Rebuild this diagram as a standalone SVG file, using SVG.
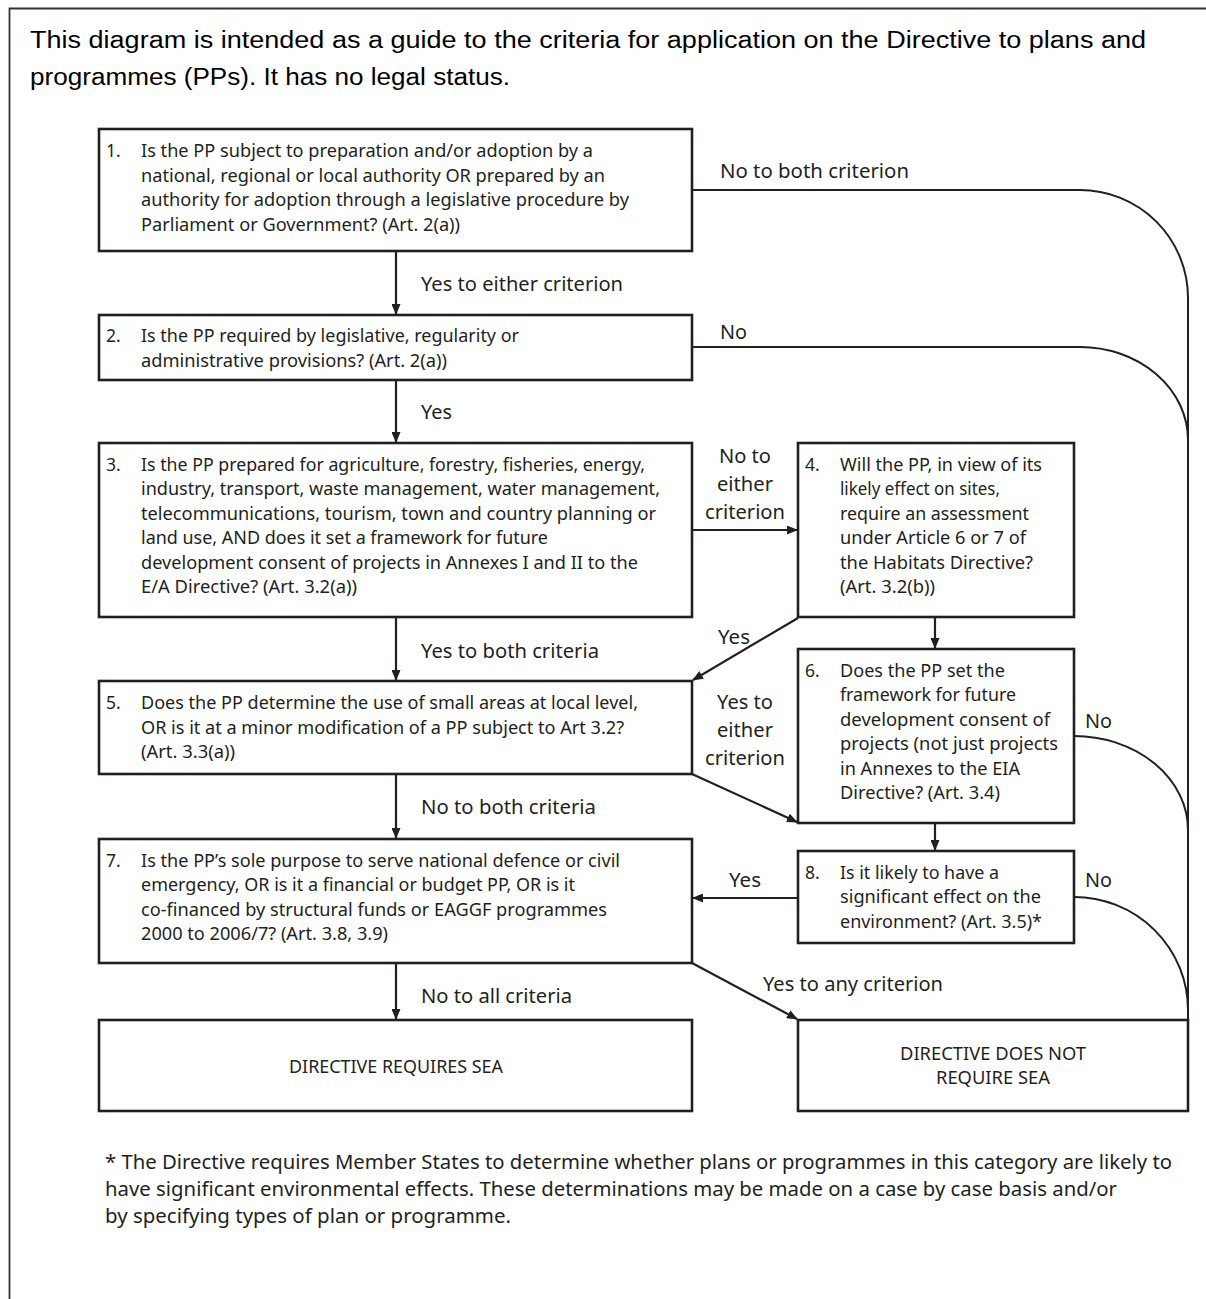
<svg xmlns="http://www.w3.org/2000/svg" width="1206" height="1299" viewBox="0 0 1206 1299">
<style>
.box{fill:#fff;stroke:#231f20;stroke-width:2.6}
.ln{fill:none;stroke:#231f20;stroke-width:2.2}
.cv{fill:none;stroke:#231f20;stroke-width:2}
.t{font-family:"Noto Sans","Liberation Sans",sans-serif;font-size:17.5px;fill:#231f20}
.l{font-family:"Noto Sans","Liberation Sans",sans-serif;font-size:20.5px;fill:#231f20}
.h{font-family:"Liberation Sans",Arial,sans-serif;font-size:23px;fill:#000}
.f{font-family:"Noto Sans","Liberation Sans",sans-serif;font-size:19px;fill:#231f20}
.c{text-anchor:middle}
</style>
<defs>
<marker id="ah" markerUnits="userSpaceOnUse" markerWidth="11" markerHeight="9" refX="10" refY="4.5" orient="auto">
<path d="M0,0 L11,4.5 L0,9 z" fill="#231f20"/>
</marker>
</defs>
<rect width="1206" height="1299" fill="#fff"/>
<path d="M9.5,1299 V8.5 H1206" fill="none" stroke="#333" stroke-width="1.8"/>
<g id="header">
<text class="h" x="30" y="48" textLength="1116" lengthAdjust="spacingAndGlyphs">This diagram is intended as a guide to the criteria for application on the Directive to plans and</text>
<text class="h" x="30" y="85" textLength="480" lengthAdjust="spacingAndGlyphs">programmes (PPs). It has no legal status.</text>
</g>
<g id="connectors">
<line class="ln" x1="396" y1="251" x2="396" y2="314" marker-end="url(#ah)"/>
<line class="ln" x1="396" y1="380" x2="396" y2="442" marker-end="url(#ah)"/>
<line class="ln" x1="396" y1="617" x2="396" y2="680" marker-end="url(#ah)"/>
<line class="ln" x1="396" y1="774" x2="396" y2="838" marker-end="url(#ah)"/>
<line class="ln" x1="396" y1="963" x2="396" y2="1019" marker-end="url(#ah)"/>
<line class="ln" x1="692" y1="530" x2="797" y2="530" marker-end="url(#ah)"/>
<line class="ln" x1="935" y1="617" x2="935" y2="648" marker-end="url(#ah)"/>
<line class="ln" x1="935" y1="823" x2="935" y2="850" marker-end="url(#ah)"/>
<line class="ln" x1="798" y1="898" x2="693" y2="898" marker-end="url(#ah)"/>
<line class="ln" x1="798" y1="618" x2="693" y2="680" marker-end="url(#ah)"/>
<line class="ln" x1="692" y1="774" x2="797" y2="822" marker-end="url(#ah)"/>
<line class="ln" x1="692" y1="963" x2="797" y2="1019" marker-end="url(#ah)"/>
<path class="cv" d="M692,190 H1080 A108,108 0 0 1 1188,298 V1019"/>
<path class="cv" d="M692,347 H1080 A108,93 0 0 1 1188,440"/>
<path class="cv" d="M1074,736 A114,94 0 0 1 1188,830"/>
<path class="cv" d="M1074,897 A114,113 0 0 1 1188,1010"/>
<g id="edge-labels">
<text class="l" x="720" y="178" textLength="189" lengthAdjust="spacingAndGlyphs">No to both criterion</text>
<text class="l" x="421" y="291" textLength="202" lengthAdjust="spacingAndGlyphs">Yes to either criterion</text>
<text class="l" x="720" y="339" textLength="27" lengthAdjust="spacingAndGlyphs">No</text>
<text class="l" x="421" y="419" textLength="31" lengthAdjust="spacingAndGlyphs">Yes</text>
<text class="l c" x="745" y="463" textLength="52" lengthAdjust="spacingAndGlyphs">No to</text>
<text class="l c" x="745" y="491" textLength="56" lengthAdjust="spacingAndGlyphs">either</text>
<text class="l c" x="745" y="519" textLength="80" lengthAdjust="spacingAndGlyphs">criterion</text>
<text class="l" x="421" y="658" textLength="178" lengthAdjust="spacingAndGlyphs">Yes to both criteria</text>
<text class="l" x="718" y="644" textLength="32" lengthAdjust="spacingAndGlyphs">Yes</text>
<text class="l c" x="745" y="709" textLength="56" lengthAdjust="spacingAndGlyphs">Yes to</text>
<text class="l c" x="745" y="737" textLength="56" lengthAdjust="spacingAndGlyphs">either</text>
<text class="l c" x="745" y="765" textLength="80" lengthAdjust="spacingAndGlyphs">criterion</text>
<text class="l" x="1085" y="728" textLength="27" lengthAdjust="spacingAndGlyphs">No</text>
<text class="l" x="421" y="814" textLength="175" lengthAdjust="spacingAndGlyphs">No to both criteria</text>
<text class="l" x="729" y="887" textLength="32" lengthAdjust="spacingAndGlyphs">Yes</text>
<text class="l" x="1085" y="887" textLength="27" lengthAdjust="spacingAndGlyphs">No</text>
<text class="l" x="421" y="1003" textLength="151" lengthAdjust="spacingAndGlyphs">No to all criteria</text>
<text class="l" x="763" y="991" textLength="180" lengthAdjust="spacingAndGlyphs">Yes to any criterion</text>
</g>
</g>
<g id="node1">
<rect class="box" x="99" y="129" width="593" height="122"/>
<text class="t" x="106" y="157">1.</text>
<text class="t" x="141" y="157" textLength="452" lengthAdjust="spacingAndGlyphs">Is the PP subject to preparation and/or adoption by a</text>
<text class="t" x="141" y="181.5" textLength="464" lengthAdjust="spacingAndGlyphs">national, regional or local authority OR prepared by an</text>
<text class="t" x="141" y="206" textLength="488" lengthAdjust="spacingAndGlyphs">authority for adoption through a legislative procedure by</text>
<text class="t" x="141" y="230.5" textLength="319" lengthAdjust="spacingAndGlyphs">Parliament or Government? (Art. 2(a))</text>
</g>
<g id="node2">
<rect class="box" x="99" y="315" width="593" height="65"/>
<text class="t" x="106" y="342">2.</text>
<text class="t" x="141" y="342" textLength="378" lengthAdjust="spacingAndGlyphs">Is the PP required by legislative, regularity or</text>
<text class="t" x="141" y="366.5" textLength="306" lengthAdjust="spacingAndGlyphs">administrative provisions? (Art. 2(a))</text>
</g>
<g id="node3">
<rect class="box" x="99" y="443" width="593" height="174"/>
<text class="t" x="106" y="470.5">3.</text>
<text class="t" x="141" y="470.5" textLength="504" lengthAdjust="spacingAndGlyphs">Is the PP prepared for agriculture, forestry, fisheries, energy,</text>
<text class="t" x="141" y="495" textLength="519" lengthAdjust="spacingAndGlyphs">industry, transport, waste management, water management,</text>
<text class="t" x="141" y="519.5" textLength="515" lengthAdjust="spacingAndGlyphs">telecommunications, tourism, town and country planning or</text>
<text class="t" x="141" y="544" textLength="407" lengthAdjust="spacingAndGlyphs">land use, AND does it set a framework for future</text>
<text class="t" x="141" y="568.5" textLength="497" lengthAdjust="spacingAndGlyphs">development consent of projects in Annexes I and II to the</text>
<text class="t" x="141" y="593" textLength="216" lengthAdjust="spacingAndGlyphs">E/A Directive? (Art. 3.2(a))</text>
</g>
<g id="node4">
<rect class="box" x="798" y="443" width="276" height="174"/>
<text class="t" x="805" y="470.5">4.</text>
<text class="t" x="840" y="470.5" textLength="202" lengthAdjust="spacingAndGlyphs">Will the PP, in view of its</text>
<text class="t" x="840" y="495" textLength="160" lengthAdjust="spacingAndGlyphs">likely effect on sites,</text>
<text class="t" x="840" y="519.5" textLength="189" lengthAdjust="spacingAndGlyphs">require an assessment</text>
<text class="t" x="840" y="544" textLength="186" lengthAdjust="spacingAndGlyphs">under Article 6 or 7 of</text>
<text class="t" x="840" y="568.5" textLength="193" lengthAdjust="spacingAndGlyphs">the Habitats Directive?</text>
<text class="t" x="840" y="593" textLength="95" lengthAdjust="spacingAndGlyphs">(Art. 3.2(b))</text>
</g>
<g id="node5">
<rect class="box" x="99" y="681" width="593" height="93"/>
<text class="t" x="106" y="709">5.</text>
<text class="t" x="141" y="709" textLength="497" lengthAdjust="spacingAndGlyphs">Does the PP determine the use of small areas at local level,</text>
<text class="t" x="141" y="733.5" textLength="483" lengthAdjust="spacingAndGlyphs">OR is it at a minor modification of a PP subject to Art 3.2?</text>
<text class="t" x="141" y="758" textLength="94" lengthAdjust="spacingAndGlyphs">(Art. 3.3(a))</text>
</g>
<g id="node6">
<rect class="box" x="798" y="649" width="276" height="174"/>
<text class="t" x="805" y="676.5">6.</text>
<text class="t" x="840" y="676.5" textLength="165" lengthAdjust="spacingAndGlyphs">Does the PP set the</text>
<text class="t" x="840" y="701" textLength="176" lengthAdjust="spacingAndGlyphs">framework for future</text>
<text class="t" x="840" y="725.5" textLength="210" lengthAdjust="spacingAndGlyphs">development consent of</text>
<text class="t" x="840" y="750" textLength="218" lengthAdjust="spacingAndGlyphs">projects (not just projects</text>
<text class="t" x="840" y="774.5" textLength="180" lengthAdjust="spacingAndGlyphs">in Annexes to the EIA</text>
<text class="t" x="840" y="799" textLength="160" lengthAdjust="spacingAndGlyphs">Directive? (Art. 3.4)</text>
</g>
<g id="node7">
<rect class="box" x="99" y="839" width="593" height="124"/>
<text class="t" x="106" y="866.5">7.</text>
<text class="t" x="141" y="866.5" textLength="479" lengthAdjust="spacingAndGlyphs">Is the PP’s sole purpose to serve national defence or civil</text>
<text class="t" x="141" y="891" textLength="434" lengthAdjust="spacingAndGlyphs">emergency, OR is it a financial or budget PP, OR is it</text>
<text class="t" x="141" y="915.5" textLength="466" lengthAdjust="spacingAndGlyphs">co-financed by structural funds or EAGGF programmes</text>
<text class="t" x="141" y="940" textLength="247" lengthAdjust="spacingAndGlyphs">2000 to 2006/7? (Art. 3.8, 3.9)</text>
</g>
<g id="node8">
<rect class="box" x="798" y="851" width="276" height="92"/>
<text class="t" x="805" y="878.5">8.</text>
<text class="t" x="840" y="878.5" textLength="159" lengthAdjust="spacingAndGlyphs">Is it likely to have a</text>
<text class="t" x="840" y="903" textLength="201" lengthAdjust="spacingAndGlyphs">significant effect on the</text>
<text class="t" x="840" y="927.5" textLength="202" lengthAdjust="spacingAndGlyphs">environment? (Art. 3.5)*</text>
</g>
<g id="node-requires">
<rect class="box" x="99" y="1020" width="593" height="91"/>
<text class="t c" x="396" y="1073" textLength="214" lengthAdjust="spacingAndGlyphs">DIRECTIVE REQUIRES SEA</text>
</g>
<g id="node-not-requires">
<rect class="box" x="798" y="1020" width="390" height="91"/>
<text class="t c" x="993" y="1060" textLength="186" lengthAdjust="spacingAndGlyphs">DIRECTIVE DOES NOT</text>
<text class="t c" x="993" y="1083.5" textLength="114" lengthAdjust="spacingAndGlyphs">REQUIRE SEA</text>
</g>
<g id="footnote">
<text class="f" x="105" y="1169" textLength="1067" lengthAdjust="spacingAndGlyphs">* The Directive requires Member States to determine whether plans or programmes in this category are likely to</text>
<text class="f" x="105" y="1196" textLength="1012" lengthAdjust="spacingAndGlyphs">have significant environmental effects. These determinations may be made on a case by case basis and/or</text>
<text class="f" x="105" y="1223" textLength="406" lengthAdjust="spacingAndGlyphs">by specifying types of plan or programme.</text>
</g>
</svg>
